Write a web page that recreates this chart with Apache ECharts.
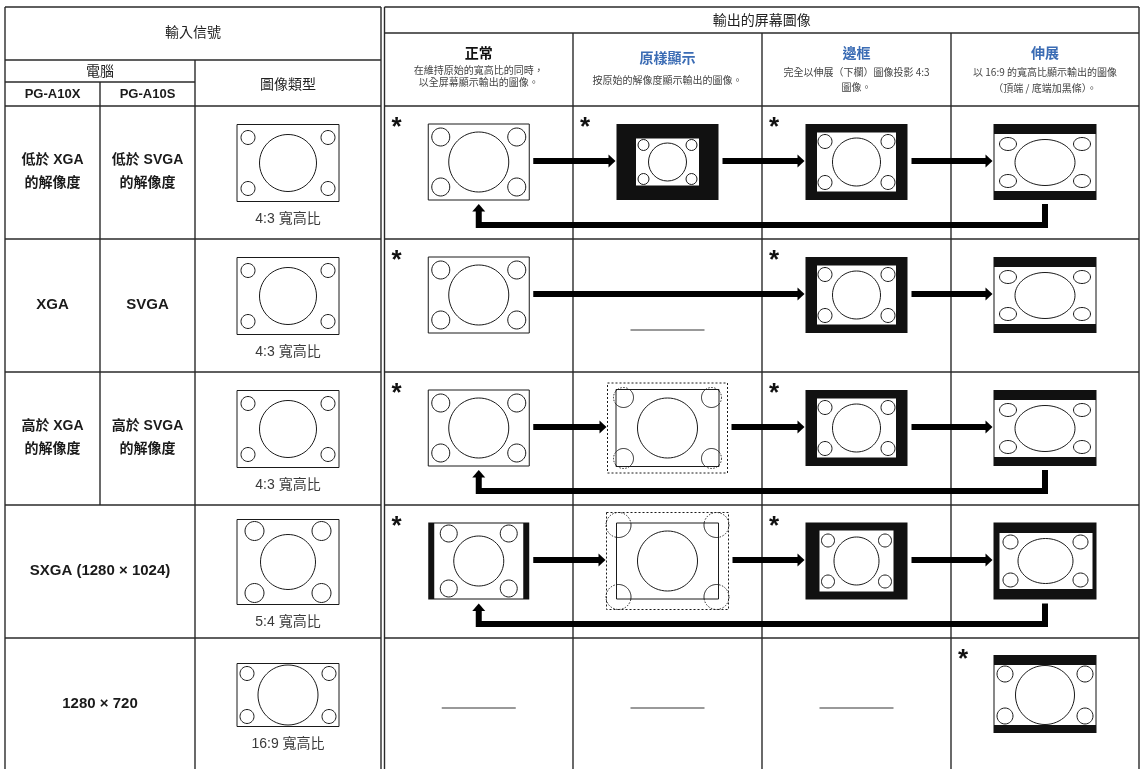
<!DOCTYPE html>
<html><head><meta charset="utf-8">
<script src="https://cdn.jsdelivr.net/npm/echarts@6/dist/echarts.min.js"></script>
<style>html,body{margin:0;padding:0;background:#fff}#c{width:1147px;height:769px}</style>
</head><body><div id="c"></div>
<script>
// ================= DATA =================
const inputTitle = '輸入信號';
const computerTitle = '電腦';
const modelNames = ['PG-A10X', 'PG-A10S'];
const imageTypeTitle = '圖像類型';
const outputTitle = '輸出的屏幕圖像';
const modeNames = ['正常', '原樣顯示', '邊框', '伸展'];
const modeNotes = [
  ['在維持原始的寬高比的同時，', '以全屏幕顯示輸出的圖像。'],
  ['按原始的解像度顯示輸出的圖像。'],
  ['完全以伸展（下欄）圖像投影 4:3', '圖像。'],
  ['以 16:9 的寬高比顯示輸出的圖像', '（頂端 / 底端加黑條）。']
];
const labelsX = ['低於 XGA\n的解像度', 'XGA', '高於 XGA\n的解像度', 'SXGA (1280 × 1024)', '1280 × 720'];
const labelsS = ['低於 SVGA\n的解像度', 'SVGA', '高於 SVGA\n的解像度', '', ''];
const mergedRows = [false, false, false, true, true];
const aspectTypes = ['4:3', '4:3', '4:3', '5:4', '16:9'];
const aspectLabels = ['4:3 寬高比', '4:3 寬高比', '4:3 寬高比', '5:4 寬高比', '16:9 寬高比'];
const outputModes = [
  ['normal', 'real', 'border', 'stretch'],
  ['normal', 'none', 'border', 'stretch'],
  ['normal', 'realOver', 'border', 'stretch'],
  ['pillar', 'realOver2', 'border54', 'stretch54'],
  ['none', 'none', 'none', 'stretch169']
];
const defaultMode = [[1,1,1,0],[1,0,1,0],[1,0,1,0],[1,0,1,0],[0,0,0,1]];
const switchSteps = [
  [[0,1],[1,2],[2,3]],
  [[0,2],[2,3]],
  [[0,1],[1,2],[2,3]],
  [[0,1],[1,2],[2,3]],
  []
];
const returnsToStart = [true, false, true, true, false];

// ================= LAYOUT / STYLE =================
const L = {
  leftX: [5, 100, 195, 381],
  rightX: [384.5, 573, 762, 951, 1139],
  top: 7, hdr1: 60, hdr2: 82, outHdr: 33,
  rowY: [106, 239, 372, 505, 638, 771]
};
const FONT = "'Liberation Sans', 'Noto Sans CJK TC', sans-serif";
const CJK = "'Noto Sans CJK TC', 'Liberation Sans', sans-serif";
const INK = '#1a1a1a';
const LINE = '#2a2a2a';
const BLUE = '#3b6cb4';
const modeColors = ['#111', BLUE, BLUE, BLUE];
const modeTitleY = [53, 58, 53, 53];
const modeNoteY = [[70, 82], [80], [72, 87], [72, 88]];

function colCenter(c) { return (L.rightX[c] + L.rightX[c + 1]) / 2; }

// ---------- primitive helpers ----------
function txt(x, y, text, size, opt) {
  opt = opt || {};
  return { type: 'text', x: x, y: y, silent: true,
    style: { text: text, fontSize: size, fontFamily: opt.family || FONT, fontWeight: opt.weight || 'normal',
      fill: opt.fill || INK, align: opt.align || 'center', textAlign: opt.align || 'center',
      verticalAlign: opt.va || 'middle', textVerticalAlign: opt.va || 'middle', lineHeight: opt.lh || size * 1.3 } };
}
function rect(x, y, w, h, fill, stroke, lw, dash) {
  return { type: 'rect', shape: { x: x, y: y, width: w, height: h },
    style: { fill: fill || 'none', stroke: stroke || null, lineWidth: lw || 1, lineDash: dash || null } };
}
function ell(cx, cy, rx, ry) {
  return { type: 'ellipse', shape: { cx: cx, cy: cy, rx: rx, ry: ry == null ? rx : ry },
    style: { fill: '#fff', stroke: INK, lineWidth: 1 } };
}
function corners(cx, cy, ox, oy, rx, ry) {
  return [[-1,-1],[1,-1],[-1,1],[1,1]].map(function (s) { return ell(cx + s[0] * ox, cy + s[1] * oy, rx, ry); });
}
function clippedCircle(cx, cy, r, box) {
  const N = 120, pts = [];
  for (let i = 0; i <= N; i++) { const a = i / N * 2 * Math.PI; pts.push([cx + r * Math.cos(a), cy + r * Math.sin(a)]); }
  const inside = function (p) { return p[0] >= box.x0 && p[0] <= box.x1 && p[1] >= box.y0 && p[1] <= box.y1; };
  const runs = []; let run = [pts[0]], st = inside(pts[0]);
  for (let i = 1; i < pts.length; i++) {
    const s = inside(pts[i]);
    run.push(pts[i]);
    if (s !== st) { runs.push({ pts: run, inside: st }); run = [pts[i]]; st = s; }
  }
  runs.push({ pts: run, inside: st });
  return runs.filter(function (o) { return o.pts.length > 1; }).map(function (o) {
    return { type: 'polyline', shape: { points: o.pts },
      style: { fill: null, stroke: INK, lineWidth: 1, lineDash: o.inside ? null : [1.5, 1.5] } };
  });
}

// ---------- icon drawing ----------
const iconHalfW = { normal: 50.5, pillar: 50.5, real: 51, realOver: 60, realOver2: 61, border: 51, border54: 51, stretch: 51.5, stretch54: 51.5, stretch169: 51.5 };
const iconHalfH = { stretch: 38, stretch54: 38.5, normal: 38, pillar: 38.5 };

function drawIcon(mode, cx, cy) {
  let ch = [];
  switch (mode) {
    case 'in4:3':
      ch.push(rect(cx - 51, cy - 38.5, 102, 77, '#fff', INK, 1));
      ch.push(ell(cx, cy, 28.5)); ch = ch.concat(corners(cx, cy, 40, 25.5, 7)); break;
    case 'in5:4':
      ch.push(rect(cx - 51, cy - 42.5, 102, 85, '#fff', INK, 1));
      ch.push(ell(cx, cy, 27.5)); ch = ch.concat(corners(cx, cy, 33.5, 31, 9.5)); break;
    case 'in16:9':
      ch.push(rect(cx - 51, cy - 31.5, 102, 63, '#fff', INK, 1));
      ch.push(ell(cx, cy, 30)); ch = ch.concat(corners(cx, cy, 41, 21.5, 7)); break;
    case 'normal':
      ch.push(rect(cx - 50.5, cy - 38, 101, 76, '#fff', INK, 1));
      ch.push(ell(cx, cy, 30)); ch = ch.concat(corners(cx, cy, 38, 25, 9)); break;
    case 'pillar':
      ch.push(rect(cx - 50.5, cy - 38.5, 101, 77, '#111'));
      ch.push(rect(cx - 44.5, cy - 37.5, 89, 75, '#fff'));
      ch.push(ell(cx, cy, 25)); ch = ch.concat(corners(cx, cy, 30, 27.5, 8.5)); break;
    case 'real':
      ch.push(rect(cx - 51, cy - 38, 102, 76, '#111'));
      ch.push(rect(cx - 31.5, cy - 23.5, 63, 47, '#fff'));
      ch.push(ell(cx, cy, 19)); ch = ch.concat(corners(cx, cy, 24, 17, 5.5)); break;
    case 'realOver': {
      ch.push(rect(cx - 60, cy - 45, 120, 90, null, INK, 1, [2, 2]));
      const b = { x0: cx - 51.5, y0: cy - 38.5, x1: cx + 51.5, y1: cy + 38.5 };
      ch.push(rect(b.x0, b.y0, 103, 77, '#fff', INK, 1));
      ch.push(ell(cx, cy, 30));
      [[-1,-1],[1,-1],[-1,1],[1,1]].forEach(function (s) { ch = ch.concat(clippedCircle(cx + s[0] * 44, cy + s[1] * 30.5, 10, b)); });
      break; }
    case 'realOver2': {
      ch.push(rect(cx - 61, cy - 48.5, 122, 97, null, INK, 1, [2, 2]));
      const b = { x0: cx - 51, y0: cy - 38, x1: cx + 51, y1: cy + 38 };
      ch.push(rect(b.x0, b.y0, 102, 76, '#fff', INK, 1));
      ch.push(ell(cx, cy, 30));
      [[-1,-1],[1,-1],[-1,1],[1,1]].forEach(function (s) { ch = ch.concat(clippedCircle(cx + s[0] * 49, cy + s[1] * 36, 12.5, b)); });
      break; }
    case 'border':
      ch.push(rect(cx - 51, cy - 38, 102, 76, '#111'));
      ch.push(rect(cx - 39.5, cy - 29.5, 79, 59, '#fff'));
      ch.push(ell(cx, cy, 24)); ch = ch.concat(corners(cx, cy, 31.5, 20.5, 7)); break;
    case 'border54':
      ch.push(rect(cx - 51, cy - 38.5, 102, 77, '#111'));
      ch.push(rect(cx - 37, cy - 30.5, 74, 61, '#fff'));
      ch.push(ell(cx, cy, 22.5, 24)); ch = ch.concat(corners(cx, cy, 28.5, 20.5, 6.5)); break;
    case 'stretch':
      ch.push(rect(cx - 51.5, cy - 38, 103, 76, '#111'));
      ch.push(rect(cx - 50.5, cy - 28, 101, 57, '#fff'));
      ch.push(ell(cx, cy + 0.5, 30, 23)); ch = ch.concat(corners(cx, cy + 0.5, 37, 18.5, 8.5, 6.5)); break;
    case 'stretch54':
      ch.push(rect(cx - 51.5, cy - 38.5, 103, 77, '#111'));
      ch.push(rect(cx - 45.5, cy - 28, 93, 56, '#fff'));
      ch.push(ell(cx + 0.5, cy, 27.5, 22.5)); ch = ch.concat(corners(cx + 0.5, cy, 35, 19, 7.5, 7)); break;
    case 'stretch169':
      ch.push(rect(cx - 51.5, cy - 39, 103, 78, '#111'));
      ch.push(rect(cx - 50.5, cy - 29, 101, 60, '#fff'));
      ch.push(ell(cx, cy + 1, 29.5)); ch = ch.concat(corners(cx, cy + 1, 40, 21, 8)); break;
  }
  return ch;
}

// ---------- series renderers ----------
function renderLabels(params, api) {
  const r = api.value(0);
  const top = L.rowY[r];
  const ch = [];
  const yy = api.coord([0, top + 66])[1];
  const one = function (s) { return s.indexOf('\n') >= 0 ? 14 : 15; };
  if (mergedRows[r]) {
    const x = api.coord([(L.leftX[0] + L.leftX[2]) / 2, 0])[0];
    ch.push(txt(x, yy, labelsX[r], one(labelsX[r]), { weight: 'bold', lh: 23 }));
  } else {
    const x1 = api.coord([(L.leftX[0] + L.leftX[1]) / 2, 0])[0];
    const x2 = api.coord([(L.leftX[1] + L.leftX[2]) / 2, 0])[0];
    ch.push(txt(x1, yy, labelsX[r], one(labelsX[r]), { weight: 'bold', lh: 23 }));
    ch.push(txt(x2, yy, labelsS[r], one(labelsS[r]), { weight: 'bold', lh: 23 }));
  }
  return { type: 'group', children: ch };
}

const inHalfH = { '4:3': 38.5, '5:4': 42.5, '16:9': 31.5 };
function renderInput(params, api) {
  const r = api.value(0);
  const t = aspectTypes[r];
  const p = api.coord([(L.leftX[2] + L.leftX[3]) / 2, L.rowY[r] + 57]);
  let ch = drawIcon('in' + t, p[0], p[1]);
  ch.push(txt(p[0], p[1] + inHalfH[t] + 18, aspectLabels[r], 14, { fill: '#3a3a3a' }));
  return { type: 'group', children: ch };
}

function passesThrough(r, c) {
  return switchSteps[r].some(function (s) { return s[0] < c && s[1] > c; });
}
function renderOutput(params, api) {
  const c = api.value(0), r = api.value(1);
  const mode = outputModes[r][c];
  const top = L.rowY[r];
  const p = api.coord([colCenter(c), top + 56]);
  let ch = [];
  if (mode === 'none') {
    const y = api.coord([0, top + (passesThrough(r, c) ? 91 : 70)])[1];
    ch.push({ type: 'line', shape: { x1: p[0] - 37, y1: y, x2: p[0] + 37, y2: y }, style: { stroke: '#777', lineWidth: 1.6 } });
  } else {
    ch = drawIcon(mode, p[0], p[1]);
  }
  if (defaultMode[r][c]) {
    const s = api.coord([L.rightX[c] + 12, top + 5]);
    ch.push(txt(s[0], s[1], '*', 26, { weight: 'bold', va: 'top', fill: '#111' }));
  }
  return { type: 'group', children: ch };
}

function renderFlow(params, api) {
  const r = api.value(0), a = api.value(1), b = api.value(2);
  const top = L.rowY[r];
  const y = api.coord([0, top + 55])[1];
  const x0 = api.coord([colCenter(a) + (iconHalfW[outputModes[r][a]] || 51) + 4, 0])[0];
  const tip = api.coord([colCenter(b) - (iconHalfW[outputModes[r][b]] || 51) - 1, 0])[0];
  return { type: 'group', children: [
    { type: 'rect', shape: { x: x0, y: y - 3, width: tip - 6 - x0, height: 6 }, style: { fill: '#000' } },
    { type: 'polygon', shape: { points: [[tip - 7, y - 6.5], [tip, y], [tip - 7, y + 6.5]] }, style: { fill: '#000' } }
  ] };
}

function renderReturn(params, api) {
  const r = api.value(0);
  const top = L.rowY[r];
  const last = outputModes[r][3], first = outputModes[r][0];
  const xs = api.coord([colCenter(3), 0])[0];
  const xe = api.coord([colCenter(0), 0])[0];
  const ys = api.coord([0, top + 56 + (iconHalfH[last] || 38) + 4])[1];
  const yl = api.coord([0, top + 119])[1];
  const tip = api.coord([0, top + 56 + (iconHalfH[first] || 38) + 4])[1];
  return { type: 'group', children: [
    { type: 'polyline', shape: { points: [[xs, ys], [xs, yl], [xe, yl], [xe, tip + 7]] },
      style: { fill: null, stroke: '#000', lineWidth: 6, lineJoin: 'miter', lineCap: 'butt' } },
    { type: 'polygon', shape: { points: [[xe - 6.5, tip + 7.5], [xe, tip], [xe + 6.5, tip + 7.5]] }, style: { fill: '#000' } }
  ] };
}

// ---------- table frame + headers (graphic) ----------
function hline(y, x1, x2) { return { type: 'line', shape: { x1: x1, y1: y, x2: x2, y2: y }, style: { stroke: LINE, lineWidth: 1.4 } }; }
function vline(x, y1, y2) { return { type: 'line', shape: { x1: x, y1: y1, x2: x, y2: y2 }, style: { stroke: LINE, lineWidth: 1.4 } }; }
const frame = [];
const bottom = L.rowY[5];
frame.push(hline(L.top, L.leftX[0], L.leftX[3]));
frame.push(hline(L.top, L.rightX[0], L.rightX[4]));
frame.push(vline(L.leftX[0], L.top, bottom));
frame.push(vline(L.leftX[3], L.top, bottom));
frame.push(vline(L.rightX[0], L.top, bottom));
frame.push(vline(L.rightX[4], L.top, bottom));
frame.push(hline(L.hdr1, L.leftX[0], L.leftX[3]));
frame.push(hline(L.hdr2, L.leftX[0], L.leftX[2]));
frame.push(vline(L.leftX[2], L.hdr1, bottom));
frame.push(vline(L.leftX[1], L.hdr2, L.rowY[3]));
frame.push(hline(L.outHdr, L.rightX[0], L.rightX[4]));
for (let c = 1; c < 4; c++) frame.push(vline(L.rightX[c], L.outHdr, bottom));
for (let r = 0; r < 5; r++) {
  frame.push(hline(L.rowY[r], L.leftX[0], L.leftX[3]));
  frame.push(hline(L.rowY[r], L.rightX[0], L.rightX[4]));
}
// header texts
frame.push(txt((L.leftX[0] + L.leftX[3]) / 2, 32, inputTitle, 14, { family: CJK, fill: '#222' }));
frame.push(txt((L.leftX[0] + L.leftX[2]) / 2, 71, computerTitle, 14, { family: CJK, fill: '#222' }));
frame.push(txt((L.leftX[0] + L.leftX[1]) / 2, 94, modelNames[0], 13, { weight: 'bold' }));
frame.push(txt((L.leftX[1] + L.leftX[2]) / 2, 94, modelNames[1], 13, { weight: 'bold' }));
frame.push(txt((L.leftX[2] + L.leftX[3]) / 2, 84, imageTypeTitle, 14, { family: CJK, fill: '#222' }));
frame.push(txt((L.rightX[0] + L.rightX[4]) / 2, 20, outputTitle, 14, { family: CJK, fill: '#222' }));
for (let c = 0; c < 4; c++) {
  const x = colCenter(c);
  frame.push(txt(x, modeTitleY[c], modeNames[c], 14, { family: CJK, weight: 'bold', fill: modeColors[c] }));
  modeNotes[c].forEach(function (line, i) {
    frame.push(txt(x, modeNoteY[c][i], line, 10, { family: CJK, fill: '#444' }));
  });
}

// ---------- series data built from arrays ----------
const rowIdx = labelsX.map(function (_, i) { return [i, i]; });
const outData = [];
outputModes.forEach(function (row, r) { row.forEach(function (_, c) { outData.push([c, r]); }); });
const flowData = [];
switchSteps.forEach(function (steps, r) { steps.forEach(function (s) { flowData.push([r, s[0], s[1]]); }); });
const retData = [];
returnsToStart.forEach(function (v, r) { if (v) retData.push([r, r]); });

const chart = echarts.init(document.getElementById('c'), null, { renderer: 'canvas' });
chart.setOption({
  animation: false,
  backgroundColor: '#fff',
  grid: { left: 0, right: 0, top: 0, bottom: 0 },
  xAxis: { type: 'value', min: 0, max: 1147, show: false },
  yAxis: { type: 'value', min: 0, max: 769, inverse: true, show: false },
  graphic: { elements: frame },
  series: [
    { type: 'custom', name: 'labels', data: rowIdx, renderItem: renderLabels, clip: false, silent: true },
    { type: 'custom', name: 'input', data: rowIdx, renderItem: renderInput, clip: false, silent: true },
    { type: 'custom', name: 'returns', data: retData, renderItem: renderReturn, clip: false, silent: true },
    { type: 'custom', name: 'flows', data: flowData, renderItem: renderFlow, clip: false, silent: true },
    { type: 'custom', name: 'output', data: outData, renderItem: renderOutput, clip: false, silent: true }
  ]
});
</script>
</body></html>
